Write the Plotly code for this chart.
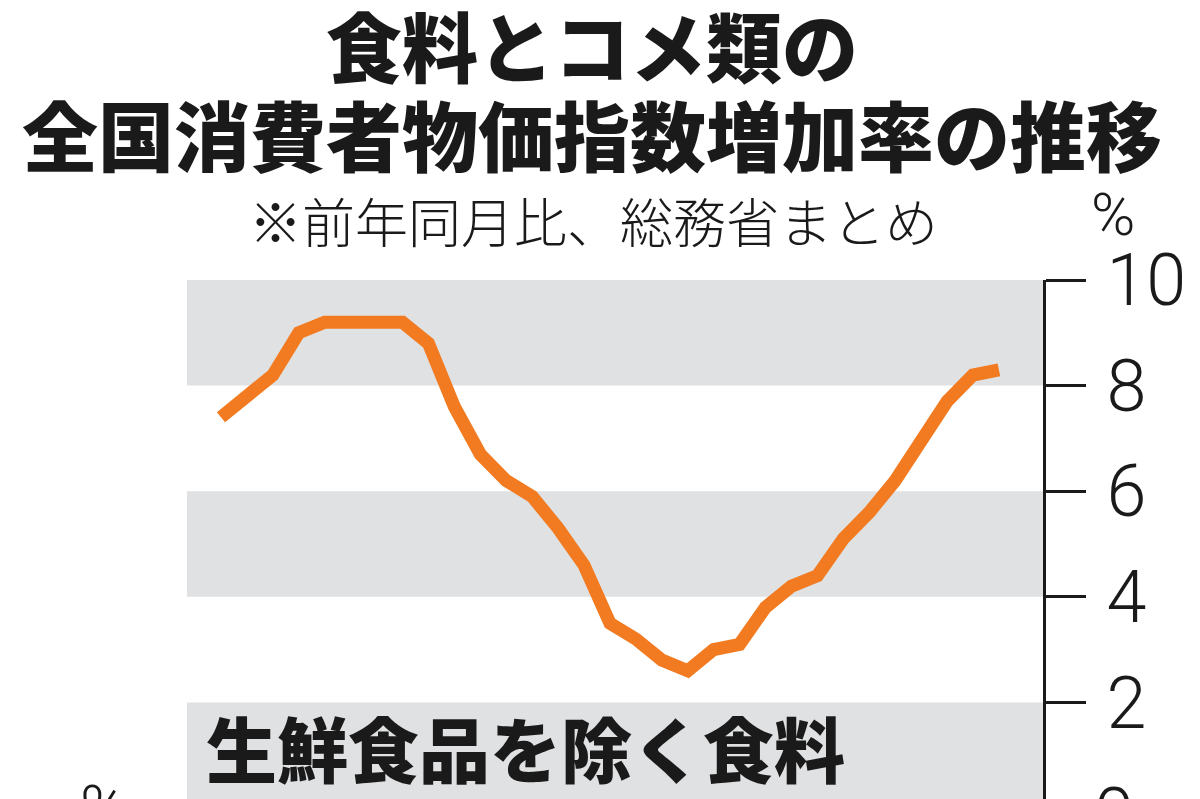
import plotly.graph_objects as go

months = [f"{y}-{m:02d}" for y in (2023, 2024, 2025) for m in range(1, 13)][:31]
food_ex_fresh = [7.4, 7.8, 8.2, 9.0, 9.2, 9.2, 9.2, 9.2, 8.8, 7.6, 6.7, 6.2,
                 5.9, 5.3, 4.6, 3.5, 3.2, 2.8, 2.6, 3.0, 3.1, 3.8, 4.2, 4.4,
                 5.1, 5.6, 6.2, 7.0, 7.7, 8.2, 8.3]
y_ticks = [2, 4, 6, 8, 10]
bands = [(8, 10), (4, 6), (0, 2)]

title1 = "食料とコメ類の"
title2 = "全国消費者物価指数増加率の推移"
subtitle = "※前年同月比、総務省まとめ"
series_label = "生鮮食品を除く食料"

Y_MIN, Y_MAX = 0.17, 10
CJK = "Noto Sans CJK JP"
NUM = "Roboto, Liberation Sans, sans-serif"
INK = "#1a1a1a"

fig = go.Figure()
fig.add_trace(go.Scatter(
    x=months, y=food_ex_fresh, mode="lines",
    line=dict(color="#F27B21", width=13),
    hoverinfo="skip", showlegend=False,
))

shapes = []
for lo, hi in bands:
    shapes.append(dict(type="rect", xref="paper", yref="y", x0=0, x1=1,
                       y0=max(lo, Y_MIN), y1=hi, fillcolor="#DFE1E2",
                       line=dict(width=0), layer="below"))

annotations = [
    dict(text=title1, x=0.473, y=1.455, xref="paper", yref="paper",
         xanchor="center", yanchor="middle", showarrow=False,
         font=dict(family=CJK, size=76, color=INK, weight=900)),
    dict(text=title2, x=0.473, y=1.283, xref="paper", yref="paper",
         xanchor="center", yanchor="middle", showarrow=False,
         font=dict(family=CJK, size=76, color=INK, weight=900)),
    dict(text=subtitle, x=0.475, y=1.116, xref="paper", yref="paper",
         xanchor="center", yanchor="middle", showarrow=False,
         font=dict(family=CJK, size=53, color=INK, weight=300)),
    dict(text="%", x=1.082, y=1.127, xref="paper", yref="paper",
         xanchor="center", yanchor="middle", showarrow=False,
         font=dict(family=NUM, size=60, color=INK, weight=300)),
    dict(text=series_label, x=0.395, y=0.0, xref="paper", yref="paper",
         xanchor="center", yanchor="bottom", showarrow=False,
         font=dict(family=CJK, size=71, color=INK, weight=900)),
    dict(text="%", x=-0.098, y=-0.02, xref="paper", yref="paper",
         xanchor="center", yanchor="middle", showarrow=False,
         font=dict(family=NUM, size=64, color=INK, weight=300)),
    dict(text="0", x=1.083, y=-0.03, xref="paper", yref="paper",
         xanchor="center", yanchor="middle", showarrow=False,
         font=dict(family=NUM, size=72, color=INK, weight=300)),
]

fig.update_layout(
    width=1200, height=799,
    margin=dict(l=179, r=165, t=272, b=8, pad=0),
    paper_bgcolor="white", plot_bgcolor="white",
    shapes=shapes, annotations=annotations,
    xaxis=dict(type="category", range=[-1.31, 31.7], showgrid=False,
               showticklabels=False, ticks="", zeroline=False, showline=False),
    yaxis=dict(range=[Y_MIN, Y_MAX], side="right", showgrid=False,
               zeroline=False, showline=True, linecolor=INK, linewidth=3,
               ticks="outside", ticklen=40, tickwidth=3, tickcolor=INK,
               tickvals=y_ticks, ticktext=[str(v) for v in y_ticks],
               tickfont=dict(family=NUM, size=72, color=INK, weight=300),
               ticklabelstandoff=6),
)

fig.write_html("out.html")
